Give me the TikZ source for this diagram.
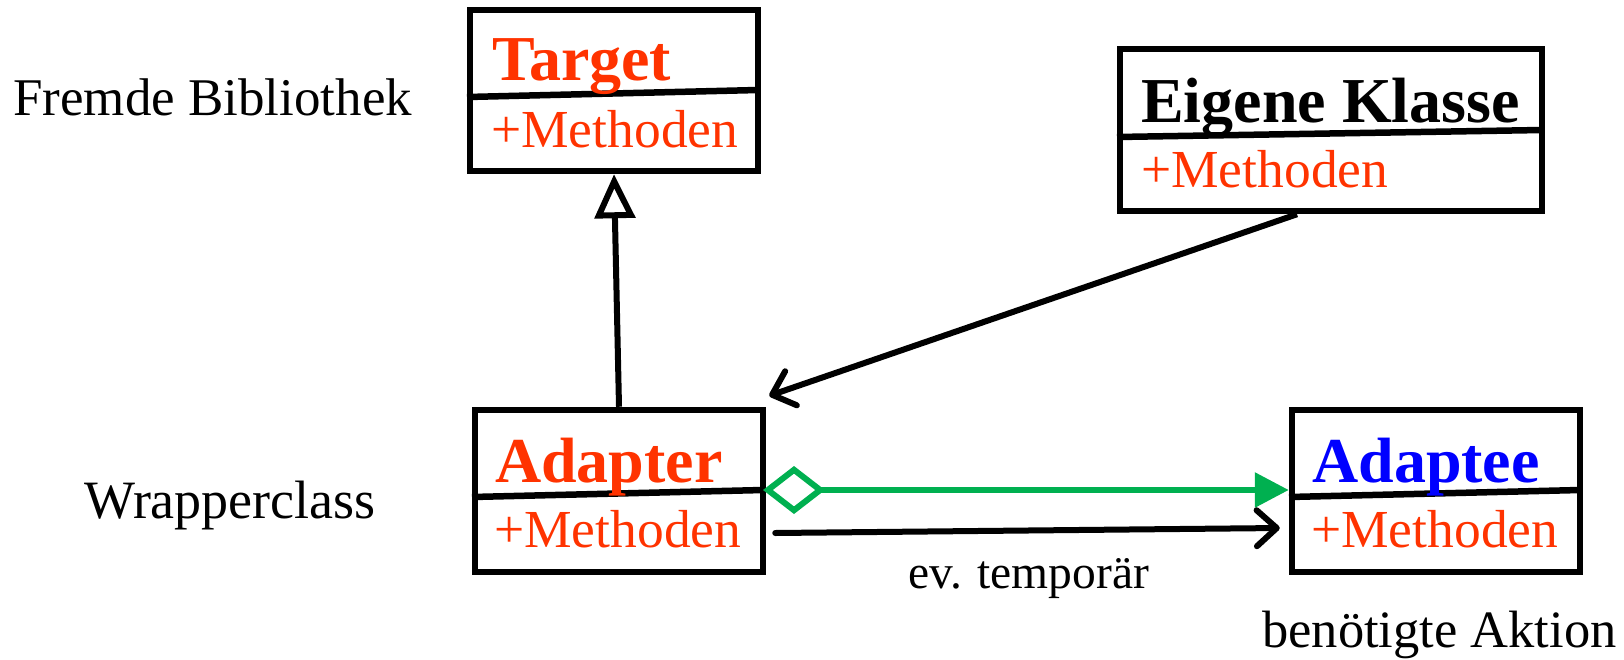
\documentclass[tikz,border=0pt]{standalone}
\usepackage{fontspec}
\setmainfont{Liberation Serif}
\usetikzlibrary{arrows.meta,calc}
\definecolor{umlred}{RGB}{255,51,0}
\definecolor{umlblue}{RGB}{0,0,255}
\definecolor{umlgreen}{RGB}{0,176,80}
\tikzset{
  box/.style={draw=black, line width=6.5pt, rectangle, inner sep=0pt},
  divider/.style={draw=black, line width=6.5pt},
  cname/.style={anchor=base west, inner sep=0pt, font=\fontsize{64}{64}\selectfont\bfseries},
  meth/.style={anchor=base west, inner sep=0pt, text=umlred, font=\fontsize{53.5}{53.5}\selectfont},
  plain/.style={anchor=base west, inner sep=0pt},
  conn/.style={draw=black, line width=6pt},
  barb/.style={-{Straight Barb[length=20pt,width=36pt,round]}}
}
\begin{document}
\begin{tikzpicture}[x=1pt,y=-1pt]
\useasboundingbox (0,0) rectangle (1624,659);
% boxes
\node[box, minimum width=288pt, minimum height=161pt] (target) at (614,90.5) {};
\node[box, minimum width=422pt, minimum height=162pt] (eigene) at (1331,130) {};
\node[box, minimum width=288pt, minimum height=162pt] (adapter) at (619,491) {};
\node[box, minimum width=288pt, minimum height=162pt] (adaptee) at (1436,491) {};
% dividers
\coordinate (tdl) at (467,97);  \coordinate (tdr) at (758,90);
\coordinate (edl) at (1117,137); \coordinate (edr) at (1542,130);
\coordinate (adl) at (472,497); \coordinate (adr) at (763,490);
\coordinate (eel) at (1289,497); \coordinate (eer) at (1580,490);
\draw[divider] (tdl) -- (tdr);
\draw[divider] (edl) -- (edr);
\draw[divider] (adl) -- (adr);
\draw[divider] (eel) -- (eer);
% class names
\node[cname, text=umlred] (tname) at (492,80) {Target};
\node[cname, text=black] (ename) at (1141,122) {Eigene Klasse};
\node[cname, text=umlred] (aname) at (495,482) {Adapter};
\node[cname, text=umlblue] (ename2) at (1312,482) {Adaptee};
% methods
\node[meth] (tmeth) at (491,147) {+Methoden};
\node[meth] (emeth) at (1141,187) {+Methoden};
\node[meth] (ameth) at (494,547) {+Methoden};
\node[meth] (emeth2) at (1311,547) {+Methoden};
% side labels
\node[plain, font=\fontsize{53}{53}\selectfont] (fremd) at (13,115) {Fremde Bibliothek};
\node[plain, font=\fontsize{54}{54}\selectfont] (wrap) at (84,518) {Wrapperclass};
\node[plain, font=\fontsize{52.5}{52.5}\selectfont] (aktion) at (1262,647) {benötigte Aktion};
% connectors
\draw[conn, -{Triangle[open, length=44pt, width=40pt]}] (adapter.north) -- (target.south);
\draw[conn, barb] ($(eigene.south)+(-34,0)$) -- ($(adapter.north east)+(3,-11)$);
\draw[draw=umlgreen, line width=6pt, {Diamond[open, length=62pt, width=48pt]}-{Triangle[length=34pt, width=34pt]}] (adr) -- (adaptee.west |- adr);
\coordinate (ts) at ($(adapter.east)+(9,42)$);
\coordinate (te) at ($(adaptee.west)+(-9,37)$);
\draw[conn, line cap=round, barb] (ts) -- (te);
\node[plain, font=\fontsize{47.5}{47.5}\selectfont] (temp) at (908,588) {ev. temporär};
\end{tikzpicture}
\end{document}
